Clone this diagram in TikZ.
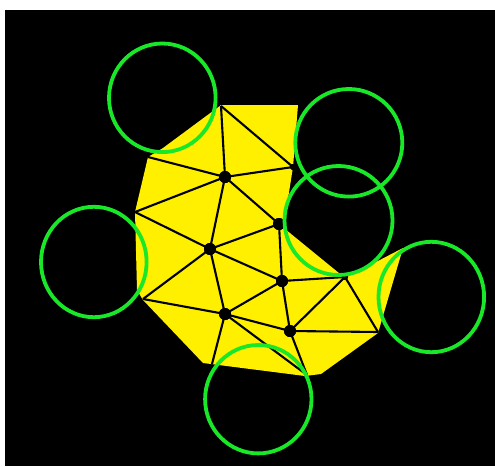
\documentclass[tikz,border=0pt]{standalone}
\definecolor{fillyellow}{RGB}{255,240,0}
\definecolor{ringgreen}{RGB}{25,232,40}
\begin{document}
\begin{tikzpicture}[x=1pt,y=-1pt,
  edge/.style={draw=black, line width=2.1pt},
  vert/.style={circle, fill=black, inner sep=0pt, minimum size=12pt},
  smallvert/.style={circle, fill=black, inner sep=0pt, minimum size=6pt},
  ring/.style={draw=ringgreen, line width=3.8pt}]
\useasboundingbox (0,0) rectangle (495,466);
\fill[white] (0,0) rectangle (495,466);
\fill[black] (5,10) rectangle (495,466);
% yellow region
\fill[fillyellow] (221,105) -- (298,105) -- (293,167) -- (287,205) -- (285,229)
  -- (345,278) -- (403,248) -- (378,333) -- (321,374) -- (305,376)
  -- (203,363) -- (143,300) -- (137,290) -- (135,212) -- (148,157)
  -- (163,148) -- (213,111) -- cycle;
% boundary vertices
\coordinate (T1) at (221,106);
\coordinate (L1) at (148,157);
\coordinate (L2) at (135,212);
\coordinate (L3) at (143,299);
\coordinate (Bm1) at (212,364);
\coordinate (Bm2) at (307,375);
\coordinate (R) at (378,332);
\node[smallvert] (P2) at (293,167) {};
\node[smallvert] (P3) at (345,277) {};
% interior vertices
\node[vert] (A) at (225,177) {};
\node[vert] (B) at (279,224) {};
\node[vert] (C) at (210,249) {};
\node[vert] (D) at (282,281) {};
\node[vert] (E) at (225,314) {};
\node[vert] (F) at (290,331) {};
% triangulation edges
\draw[edge] (T1) -- (A);
\draw[edge] (T1) -- (P2.center);
\draw[edge] (A.center) -- (P2.center);
\draw[edge] (L1) -- (A.center);
\draw[edge] (L2) -- (A.center);
\draw[edge] (A.center) -- (C.center);
\draw[edge] (A.center) -- (B.center);
\draw[edge] (L2) -- (C.center);
\draw[edge] (C.center) -- (B.center);
\draw[edge] (B.center) -- (D.center);
\draw[edge] (C.center) -- (L3);
\draw[edge] (C.center) -- (D.center);
\draw[edge] (C.center) -- (E.center);
\draw[edge] (L3) -- (E.center);
\draw[edge] (E.center) -- (D.center);
\draw[edge] (D.center) -- (P3.center);
\draw[edge] (D.center) -- (F.center);
\draw[edge] (E.center) -- (F.center);
\draw[edge] (E.center) -- (Bm1);
\draw[edge] (E.center) -- (Bm2);
\draw[edge] (F.center) -- (Bm2);
\draw[edge] (F.center) -- (P3.center);
\draw[edge] (F.center) -- (R);
\draw[edge] (P3.center) -- (R);
% redraw dots on top
\foreach \n in {A,B,C,D,E,F}{\fill[black] (\n) circle (6pt);}
\foreach \n in {P2,P3}{\fill[black] (\n) circle (3pt);}
% green rings
\draw[ring] (162.3,97.8) ellipse (53.3 and 54.3);
\draw[ring] (348.8,142.8) ellipse (53.5 and 53.8);
\draw[ring] (338.5,220.5) ellipse (54 and 54.5);
\draw[ring] (93.8,262) ellipse (52.8 and 55.2);
\draw[ring] (431.3,297) ellipse (52.8 and 55.2);
\draw[ring] (258.3,399.2) ellipse (53.2 and 54.2);
\end{tikzpicture}
\end{document}
